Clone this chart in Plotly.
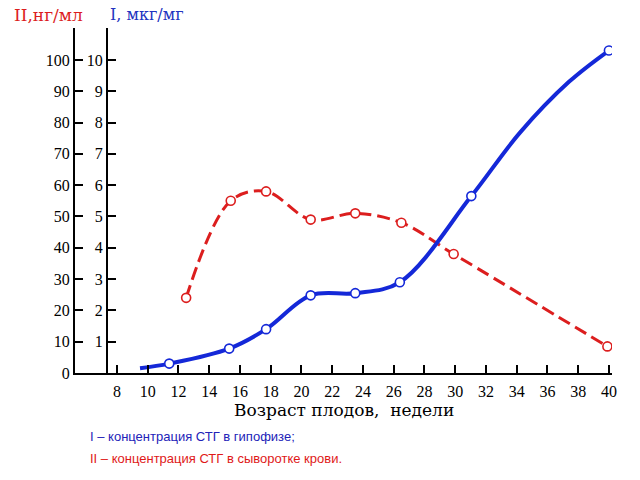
import plotly.graph_objects as go

# Data
blue_weeks = [9.5, 11.4, 15.3, 17.7, 20.6, 23.5, 26.4, 31.05, 34.2, 37.4, 40.0]
blue_vals = [0.15, 0.3, 0.78, 1.4, 2.48, 2.55, 2.9, 5.65, 7.67, 9.3, 10.3]
blue_marked = [False, True, True, True, True, True, True, True, False, False, True]

red_weeks = [12.5, 15.4, 17.7, 20.6, 23.5, 26.5, 29.9, 39.9]
red_vals = [24, 55, 58, 49, 51, 48, 38, 8.5]

x_ticks = list(range(8, 41, 2))
y2_ticks = [0, 10, 20, 30, 40, 50, 60, 70, 80, 90, 100]
y1_ticks = [1, 2, 3, 4, 5, 6, 7, 8, 9, 10]

BLUE = "#1428d8"
RED = "#dc1e1e"
SERIF = "Liberation Serif"

X_RANGE = [5.27, 40.2]
Y_TOP = 110.2

fig = go.Figure()

# Red (II) serum concentration, left axis
fig.add_trace(go.Scatter(
    x=red_weeks, y=red_vals, yaxis="y", mode="lines",
    line=dict(color=RED, width=3, dash="13px,6px", shape="spline", smoothing=1.0),
    hoverinfo="skip", showlegend=False))
fig.add_trace(go.Scatter(
    x=red_weeks, y=red_vals, yaxis="y", mode="markers",
    marker=dict(size=9, color="white", line=dict(color=RED, width=1.6)),
    showlegend=False))

# Blue (I) pituitary concentration, right axis
fig.add_trace(go.Scatter(
    x=blue_weeks, y=blue_vals, yaxis="y2", mode="lines",
    line=dict(color=BLUE, width=4, shape="spline", smoothing=1.0),
    hoverinfo="skip", showlegend=False))
bx = [w for w, m in zip(blue_weeks, blue_marked) if m]
by = [v for v, m in zip(blue_vals, blue_marked) if m]
fig.add_trace(go.Scatter(
    x=bx, y=by, yaxis="y2", mode="markers",
    marker=dict(size=9, color="white", line=dict(color=BLUE, width=1.6)),
    showlegend=False))

axis_font = dict(family=SERIF, size=16, color="black")

fig.update_layout(
    width=640, height=480,
    margin=dict(l=75, r=28, t=28, b=107),
    paper_bgcolor="white", plot_bgcolor="white",
    xaxis=dict(range=X_RANGE, showgrid=False, zeroline=False,
               showline=True, linecolor="black", linewidth=2,
               ticks="inside", ticklen=8, tickwidth=1.5, tickcolor="black",
               tickvals=x_ticks, ticktext=[str(t) for t in x_ticks],
               tickfont=axis_font, ticklabelstandoff=3),
    yaxis=dict(range=[0, Y_TOP], showgrid=False, zeroline=False,
               showline=True, linecolor="black", linewidth=2,
               ticks="inside", ticklen=8, tickwidth=1.5, tickcolor="black",
               tickvals=y2_ticks + [Y_TOP],
               ticktext=[str(t) for t in y2_ticks] + [""],
               tickfont=axis_font),
    yaxis2=dict(range=[0, Y_TOP / 10], overlaying="y", anchor="free",
                position=32 / 537, side="left",
                showgrid=False, zeroline=False,
                showline=True, linecolor="black", linewidth=2,
                ticks="inside", ticklen=8, tickwidth=1.5, tickcolor="black",
                tickvals=y1_ticks + [Y_TOP / 10],
                ticktext=[str(t) for t in y1_ticks] + [""],
                tickfont=axis_font),
)

annotations = [
    dict(text="II,нг/мл", x=-0.05, y=1.0377, xref="paper", yref="paper",
         xanchor="center", yanchor="middle", showarrow=False,
         font=dict(family="DejaVu Serif", size=17, color=RED)),
    dict(text="I, мкг/мг", x=0.0615, y=1.0377, xref="paper", yref="paper",
         xanchor="left", yanchor="middle", showarrow=False,
         font=dict(family="DejaVu Serif", size=16, color="#2233c0")),
    dict(text="Возраст плодов,  недели", x=0.5, y=-0.107, xref="paper", yref="paper",
         xanchor="center", yanchor="middle", showarrow=False,
         font=dict(family="DejaVu Serif", size=17, color="black")),
    dict(text="I – концентрация СТГ в гипофизе;", x=0.0242, y=-0.1855,
         xref="paper", yref="paper", xanchor="left", yanchor="middle",
         showarrow=False, font=dict(family="Liberation Sans", size=13, color="#2222b8")),
    dict(text="II – концентрация СТГ в сыворотке крови.", x=0.0242, y=-0.2464,
         xref="paper", yref="paper", xanchor="left", yanchor="middle",
         showarrow=False, font=dict(family="Liberation Sans", size=13, color="#e01818")),
]
fig.update_layout(annotations=annotations)

fig.write_html("out.html")
